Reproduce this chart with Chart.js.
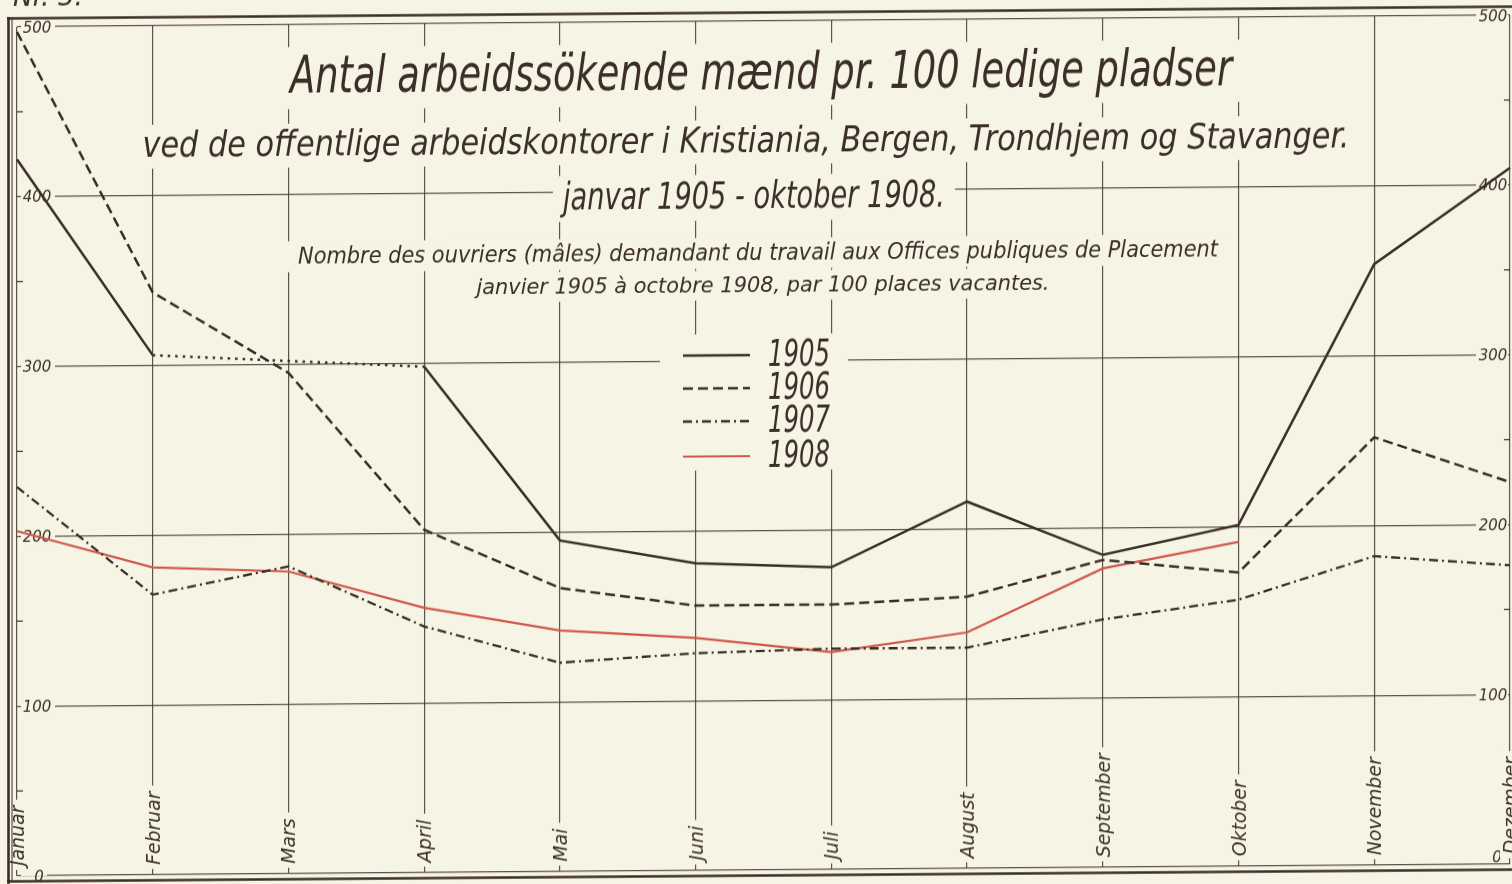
<!DOCTYPE html>
<html>
<head>
<meta charset="utf-8">
<title>Antal arbeidssökende mænd pr. 100 ledige pladser</title>
<script src="https://cdn.jsdelivr.net/npm/chart.js@4/dist/chart.umd.min.js"></script>
<style>
  html, body { margin: 0; padding: 0; background: #f6f4e4; overflow: hidden; }
  canvas { display: block; transform: skewY(-0.45deg); transform-origin: 0 0; }
</style>
</head>
<body>
<canvas id="c" width="1512" height="884"></canvas>
<script>
// ---------- data ----------
const months = ['Januar','Februar','Mars','April','Mai','Juni','Juli','August','September','Oktober','November','Dezember'];
const years = ['1905','1906','1907','1908'];
const v1905 = [422, 306, null, 298, 195, 181, 178, 216, 184, 201, 354, 410];
const v1906 = [497, 343, 295, 202, 167, 156, 156, 160, 181, 173, 252, 225];
const v1907 = [229, 165, 181, 145, 123, 128, 130, 130, 146, 157, 182, 176];
const v1908 = [203, 181, 178, 156, 142, 137, 128, 139, 176, 191, null, null];
const yTickValues = [0, 100, 200, 300, 400, 500];
const yMinorValues = [50, 150, 250, 350, 450];
const titleTexts = [
  'Antal arbeidssökende mænd pr. 100 ledige pladser',
  'ved de offentlige arbeidskontorer i Kristiania, Bergen, Trondhjem og Stavanger.',
  'janvar 1905 - oktober 1908.',
  'Nombre des ouvriers (mâles) demandant du travail aux Offices publiques de Placement',
  'janvier 1905 à octobre 1908, par 100 places vacantes.'
];
const plateNo = 'Nr. 5.';

// ---------- styles / layout ----------
const INK = '#3b2e27';
const GRID = 'rgba(70,60,52,0.88)';
const RED = '#d0584d';
const PAPER = '#f6f4e4';
const FONT = '"Liberation Sans Narrow","DejaVu Sans Condensed","DejaVu Sans",sans-serif';

const titleLayout = [
  { cx: 761, y: 95,  size: 52, w: 942 },
  { cx: 746, y: 158, size: 35, w: 1207 },
  { cx: 754, y: 214, size: 37, w: 382 },
  { cx: 758, y: 266, size: 23, w: 920 },
  { cx: 763, y: 298, size: 22, w: 573 }
];
const legendBox = { x: 660, y: 340, w: 188, h: 136, lx0: 683, lx1: 750, ty: [361, 394, 427, 462], tcx: 799, tw: 62, tsize: 38 };

function fitText(ctx, text, cx, y, size, width, align) {
  ctx.save();
  ctx.font = 'italic ' + size + 'px ' + FONT;
  const m = ctx.measureText(text).width;
  const sx = width / m;
  ctx.translate(cx, y);
  ctx.scale(sx, 1);
  ctx.textAlign = align || 'center';
  ctx.textBaseline = 'alphabetic';
  ctx.fillStyle = INK;
  ctx.fillText(text, 0, 0);
  ctx.restore();
}
function mask(ctx, x, y, w, h) {
  ctx.save();
  ctx.fillStyle = PAPER;
  ctx.fillRect(x, y, w, h);
  ctx.restore();
}

const paperPlugin = {
  id: 'paper',
  beforeDraw(chart) {
    const c = chart.ctx;
    c.save();
    c.fillStyle = PAPER;
    c.fillRect(0, 0, chart.width, chart.height);
    c.restore();
  },
  beforeDatasetsDraw(chart) {
    const ctx = chart.ctx, xs = chart.scales.x, ys = chart.scales.y, a = chart.chartArea;
    ctx.save();

    // minor ticks (50s) on both edges
    ctx.strokeStyle = INK; ctx.lineWidth = 1.2;
    yMinorValues.forEach(v => {
      const py = ys.getPixelForValue(v);
      ctx.beginPath(); ctx.moveTo(a.left, py); ctx.lineTo(a.left + 6, py); ctx.stroke();
      ctx.beginPath(); ctx.moveTo(a.right - 6, py); ctx.lineTo(a.right, py); ctx.stroke();
    });

    // title blocks
    titleTexts.forEach((t, i) => {
      const L = titleLayout[i];
      mask(ctx, L.cx - L.w / 2 - 10, L.y - L.size * 0.8 - 4, L.w + 20, L.size * 1.08 + 6);
    });
    titleTexts.forEach((t, i) => {
      const L = titleLayout[i];
      fitText(ctx, t, L.cx, L.y, L.size, L.w);
    });

    // legend
    const lb = legendBox;
    mask(ctx, lb.x, lb.y, lb.w, lb.h);
    chart.data.datasets.forEach((ds, i) => {
      const y = lb.ty[i];
      ctx.save();
      ctx.strokeStyle = ds.borderColor;
      ctx.lineWidth = ds.borderWidth;
      ctx.setLineDash(ds.borderDash || []);
      ctx.beginPath(); ctx.moveTo(lb.lx0, y); ctx.lineTo(lb.lx1, y); ctx.stroke();
      ctx.restore();
      fitText(ctx, ds.label, lb.tcx, y + 11, lb.tsize, lb.tw);
    });

    // y tick labels (left and right, inside the frame)
    yTickValues.forEach(v => {
      const py = ys.getPixelForValue(v);
      const s = String(v);
      const wl = s.length * 9.5;
      if (v === 0) {
        mask(ctx, a.left + 4, py - 9, 26, 9);
        fitText(ctx, s, a.left + 22, py + 6, 15, wl);
        mask(ctx, a.right - 22, py - 14, 20, 13);
        fitText(ctx, s, a.right - 13, py - 2, 15, wl);
      } else {
        mask(ctx, a.left + 4, py - 8, 34, 16);
        fitText(ctx, s, a.left + 20, py + 5.5, 15, wl);
        mask(ctx, a.right - 34, py - 8, 32, 16);
        fitText(ctx, s, a.right - 17, py + 5.5, 15, wl);
      }
    });

    // month labels, rotated, at bottom
    ctx.font = 'italic 20px ' + FONT;
    const k = 104 / ctx.measureText(months[8]).width;
    months.forEach((m, i) => {
      const px = xs.getPixelForValue(i);
      ctx.font = 'italic 20px ' + FONT;
      const len = ctx.measureText(m).width * k;
      const yb = a.bottom - 10;
      mask(ctx, px - 10, yb - len - 6, 20, len + 10);
      ctx.save();
      ctx.translate(px + 7, yb);
      ctx.rotate(-Math.PI / 2);
      ctx.scale(k, 1);
      ctx.fillStyle = INK;
      ctx.textAlign = 'left';
      ctx.textBaseline = 'alphabetic';
      ctx.fillText(m, 0, 0);
      ctx.restore();
    });

    ctx.restore();
  },
  afterDraw(chart) {
    const ctx = chart.ctx;
    ctx.save();
    ctx.strokeStyle = INK;
    ctx.lineWidth = 2.6;
    ctx.beginPath(); ctx.moveTo(7, 18.5); ctx.lineTo(1512, 18.5); ctx.stroke();
    ctx.beginPath(); ctx.moveTo(8.5, 17); ctx.lineTo(8.5, 884); ctx.stroke();
    ctx.beginPath(); ctx.moveTo(7, 881.5); ctx.lineTo(1512, 881.5); ctx.stroke();
    ctx.lineWidth = 1;
    ctx.beginPath(); ctx.moveTo(12, 19); ctx.lineTo(12, 881); ctx.stroke();
    ctx.restore();
    // plate number, cut at top edge
    fitText(ctx, plateNo, 48, 6, 28, 70);
  }
};

const dotted = (ctx) => (ctx.p0.skip || ctx.p1.skip) ? [2.5, 5] : undefined;

new Chart(document.getElementById('c'), {
  type: 'line',
  data: {
    labels: months,
    datasets: [
      { label: years[0], data: v1905, borderColor: INK, borderWidth: 2.5, spanGaps: true,
        segment: { borderDash: dotted } },
      { label: years[1], data: v1906, borderColor: INK, borderWidth: 2.5, borderDash: [10, 5] },
      { label: years[2], data: v1907, borderColor: INK, borderWidth: 2.3, borderDash: [9, 4, 2, 4] },
      { label: years[3], data: v1908, borderColor: RED, borderWidth: 2.2 }
    ]
  },
  options: {
    responsive: false,
    animation: false,
    devicePixelRatio: 1,
    layout: { padding: { left: 17, right: 2, top: 27, bottom: 8 } },
    elements: { point: { radius: 0, hoverRadius: 0 }, line: { tension: 0, fill: false } },
    plugins: { legend: { display: false }, tooltip: { enabled: false }, title: { display: false } },
    events: [],
    scales: {
      x: {
        type: 'category', offset: false,
        grid: { color: GRID, lineWidth: 1.2, drawTicks: false },
        border: { display: false },
        ticks: { display: false },
        afterFit(s) { s.height = 0; }
      },
      y: {
        min: 0, max: 500,
        ticks: { display: false, stepSize: 100 },
        grid: { color: GRID, lineWidth: 1.2, drawTicks: false },
        border: { display: false },
        afterFit(s) { s.width = 0; }
      }
    }
  },
  plugins: [paperPlugin]
});
</script>
</body>
</html>
